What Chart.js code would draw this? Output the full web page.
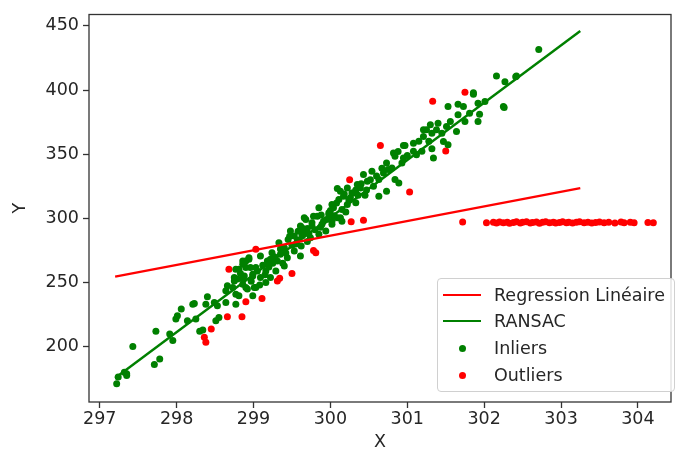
<!DOCTYPE html>
<html>
<head>
<meta charset="utf-8">
<script src="https://cdn.jsdelivr.net/npm/chart.js@4"></script>
<style>
  html, body { margin: 0; padding: 0; background: #fff; }
  #wrap { position: relative; width: 675px; height: 453px; }
  #legend { position: absolute; left: 437px; top: 278px; width: 236px; height: 112px;
    border: 1px solid #d0d0d0; border-radius: 4px; background: rgba(255,255,255,0.85);
    font-family: "DejaVu Sans", sans-serif; font-size: 17.5px; color: #262626; }
  .row { position: absolute; left: 0; height: 20px; line-height: 20px; }
  .row span.t { position: absolute; left: 56px; white-space: nowrap; top: 0; }
  .hl { position: absolute; left: 5px; width: 38px; height: 2.4px; top: 9px; }
  .hd { position: absolute; left: 21px; width: 7px; height: 7px; border-radius: 50%; top: 6.5px; }
</style>
</head>
<body>
<div id="wrap">
<canvas id="c" width="675" height="453"></canvas>
<div id="legend">
  <div class="row" style="top:6px"><div class="hl" style="background:#ff0000"></div><span class="t">Regression Linéaire</span></div>
  <div class="row" style="top:32px"><div class="hl" style="background:#008000"></div><span class="t">RANSAC</span></div>
  <div class="row" style="top:59px"><div class="hd" style="background:#008000"></div><span class="t">Inliers</span></div>
  <div class="row" style="top:86px"><div class="hd" style="background:#ff0000"></div><span class="t">Outliers</span></div>
</div>
</div>
<script>
const xTicks = [297, 298, 299, 300, 301, 302, 303, 304];
const yTicks = [200, 250, 300, 350, 400, 450];

const regressionLine = [[297.2, 254.5], [303.25, 323.5]];
const ransacLine = [[297.2, 175.5], [303.25, 446]];

const inliers = [
  [297.22,171.0],[297.24,176.2],[297.32,180.0],[297.35,177.5],[297.35,178.8],[297.43,200.0],[297.71,186.0],[297.78,190.4],
  [297.73,211.9],[297.91,209.9],[297.95,204.7],[297.99,221.5],[298.06,229.3],[298.01,224.1],[298.14,220.2],[298.21,233.1],
  [298.23,233.6],[298.25,221.5],[298.30,211.9],[298.34,212.9],[298.38,233.1],[298.40,238.8],[298.49,234.4],[298.53,231.8],
  [298.51,220.2],[298.55,222.7],[298.64,234.4],[298.66,247.4],[298.77,233.1],[298.75,253.8],[298.79,252.6],[298.86,248.6],
  [298.81,260.3],[298.90,266.8],[298.92,244.8],[298.99,256.4],[299.01,246.0],[298.86,264.2],[298.96,261.6],[298.88,255.1],
  [298.64,243.5],[298.77,240.9],[298.88,265.5],[298.94,268.1],
  [300.09,323.2],[300.17,317.2],[300.28,319.8],[300.22,310.8],[300.04,308.2],[299.98,303.0],[300.09,300.4],[299.91,297.8],
  [299.83,301.7],[299.76,296.5],[299.66,300.4],[299.61,294.0],[299.48,290.1],[299.53,286.2],[299.63,286.2],[299.74,284.9],
  [299.85,287.5],[299.94,290.1],[300.02,295.3],[300.15,297.8],[299.33,281.0],[299.40,277.1],[299.24,273.2],[299.53,274.5],
  [299.61,270.7],[299.44,269.3],[299.31,266.8],[299.18,266.8],[299.09,270.7],[298.94,269.3],[298.86,266.8],[298.77,260.3],
  [298.90,261.6],[299.03,261.6],[299.16,259.0],[299.29,259.0],[299.40,262.9],[299.22,253.8],[299.09,253.8],[298.99,255.1],
  [298.86,252.6],[298.75,251.2],[298.73,246.0],[298.90,246.0],[299.03,246.0],[299.16,250.0],[298.81,239.6],[298.99,239.6],
  [299.55,280.0],[299.70,292.0],[299.45,283.5],[299.62,278.5],[299.88,302.5],[300.05,302.0],[299.35,272.0],[299.20,262.0],
  [299.27,270.0],[299.12,263.5],
  [300.97,356.8],[301.08,358.6],[301.21,363.8],[301.25,369.0],[301.12,349.6],[300.95,347.0],[300.93,343.1],[300.84,348.3],
  [300.80,339.2],[300.73,343.1],[300.69,335.3],[300.84,330.2],[300.89,327.6],[300.63,330.2],[300.54,336.6],[300.56,325.0],
  [300.48,328.9],[300.43,334.1],[300.39,323.7],[300.30,319.8],[300.35,326.3],[300.22,323.7],[300.13,321.1],[300.11,314.7],
  [300.24,314.7],[300.33,312.1],[300.02,310.8],[300.15,306.9],[299.98,304.3],[299.85,308.2],[299.78,301.7],[299.68,299.1],
  [299.63,292.6],[299.76,294.0],[299.89,295.3],[300.02,297.8],[300.13,300.4],[300.63,317.2],[300.73,321.1],
  [302.16,410.9],[302.27,406.5],[302.41,410.4],[302.25,387.1],[301.86,396.7],[301.92,389.7],[302.01,391.0],[301.66,388.9],
  [301.73,387.1],[301.53,387.1],[301.81,381.9],[301.94,381.1],[301.66,380.7],[301.56,375.5],[301.75,375.5],[301.92,375.5],
  [301.40,374.1],[301.30,372.9],[301.51,371.6],[301.21,369.0],[301.32,366.4],[301.64,367.7],[301.45,366.4],[301.47,359.9],
  [301.53,357.4],[300.95,356.8],[301.19,352.2],[301.32,354.3],[301.08,352.2],[300.82,350.9],[301.34,347.0],
  [302.71,431.6],[302.26,386.3],[302.42,411.0],[301.86,397.9],
  [299.25,265.0],[299.35,276.0],[299.42,273.0],[299.50,279.0],[299.57,283.0],[299.65,289.0],[299.72,288.0],[299.80,291.0],
  [299.87,293.0],[299.95,299.0],[300.00,306.0],[300.08,312.0],[300.18,319.0],[300.26,316.0],[300.33,322.0],[300.40,327.0],
  [300.47,322.0],[300.52,330.0],[300.60,333.0],[300.67,339.0],[300.75,338.0],[300.88,352.0],[301.00,349.0],[301.15,360.0],
  [301.28,360.0],[301.38,369.0],[299.15,256.0],[299.05,259.0],[298.97,251.0],[298.83,257.0],[299.47,286.0],[299.58,290.0],
  [300.20,305.0],[300.36,318.0],[300.45,318.0],[299.70,282.0],[299.38,265.0],[299.22,268.0],[299.08,248.0]
];

const outliers = [
  [298.68,260.3],[298.90,234.9],[298.66,223.3],[298.85,223.3],[298.45,213.7],[298.36,207.2],[298.38,203.3],
  [299.11,237.5],[299.31,251.2],[299.34,253.3],[299.50,256.9],[299.78,275.0],[299.81,273.2],[299.03,275.9],
  [300.27,297.3],[300.43,298.5],[300.25,330.0],[300.65,356.8],[301.03,320.6],[301.33,391.2],[301.75,398.2],[301.50,352.5],
  [301.72,297.1],[302.03,296.6],[302.12,296.9],[302.16,296.3],[302.20,297.2],[302.25,296.5],[302.30,297.0],[302.33,296.2],
  [302.38,296.8],[302.42,297.3],[302.47,296.4],[302.50,296.9],[302.55,297.4],[302.60,296.3],[302.63,296.8],[302.68,297.1],
  [302.72,296.2],[302.76,296.9],[302.80,297.3],[302.85,296.5],[302.90,297.0],[302.93,296.3],[302.98,296.8],[303.02,297.4],
  [303.07,296.6],[303.10,297.0],[303.15,296.4],[303.20,296.9],[303.24,297.3],[303.30,296.5],[303.35,297.0],[303.40,296.3],
  [303.45,296.8],[303.50,297.2],[303.56,296.6],[303.62,297.0],[303.70,296.4],[303.78,297.1],[303.82,296.6],[303.90,296.9],
  [303.95,296.5],[304.13,296.7],[304.20,296.6]
];

const toPts = a => a.map(p => ({x: p[0], y: p[1]}));

const framePlugin = {
  id: 'frame',
  afterDraw(chart) {
    const a = chart.chartArea, ctx = chart.ctx;
    ctx.save();
    ctx.strokeStyle = '#333';
    ctx.lineWidth = 1.3;
    ctx.strokeRect(a.left, a.top, a.right - a.left, a.bottom - a.top);
    ctx.restore();
  }
};

const font = {family: '"DejaVu Sans", sans-serif', size: 17.5};

new Chart(document.getElementById('c'), {
  type: 'scatter',
  data: {
    datasets: [
      {label: 'Regression Linéaire', data: toPts(regressionLine), showLine: true, borderColor: '#ff0000',
       borderWidth: 2.4, pointRadius: 0, fill: false},
      {label: 'RANSAC', data: toPts(ransacLine), showLine: true, borderColor: '#008000',
       borderWidth: 2.4, pointRadius: 0, fill: false},
      {label: 'Inliers', data: toPts(inliers), backgroundColor: '#008000', borderWidth: 0, pointRadius: 3.5},
      {label: 'Outliers', data: toPts(outliers), backgroundColor: '#ff0000', borderWidth: 0, pointRadius: 3.5}
    ]
  },
  options: {
    responsive: false,
    animation: false,
    devicePixelRatio: 1,
    layout: {padding: {top: 12, right: 1, left: 0, bottom: 0}},
    plugins: {legend: {display: false}, tooltip: {enabled: false}},
    scales: {
      x: {
        type: 'linear', min: 296.86, max: 304.43,
        border: {display: false},
        grid: {display: true, drawOnChartArea: false, drawTicks: true, tickLength: 6, tickColor: '#333', tickWidth: 1.3},
        afterBuildTicks: s => { s.ticks = xTicks.map(v => ({value: v})); },
        ticks: {font, color: '#262626', padding: 1, maxRotation: 0, callback: v => String(v)},
        title: {display: true, text: 'X', font, color: '#262626', padding: {top: 0, bottom: 0}},
        afterFit: s => { s.height = 51; }
      },
      y: {
        type: 'linear', min: 156.8, max: 458.9,
        border: {display: false},
        grid: {display: true, drawOnChartArea: false, drawTicks: true, tickLength: 6, tickColor: '#333', tickWidth: 1.3},
        afterBuildTicks: s => { s.ticks = yTicks.map(v => ({value: v})); },
        ticks: {font, color: '#262626', padding: 4, callback: v => String(v)},
        title: {display: true, text: 'Y', font, color: '#262626', padding: {top: 10, bottom: 0}},
        afterFit: s => { s.width = 89; }
      }
    }
  },
  plugins: [framePlugin]
});
</script>
</body>
</html>
